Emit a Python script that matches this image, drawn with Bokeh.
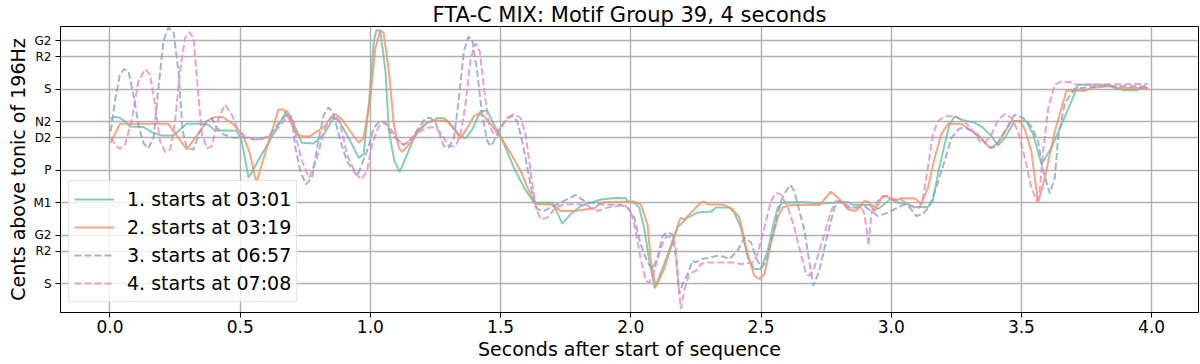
from bokeh.plotting import figure
from bokeh.models import FixedTicker, Range1d, Legend, LegendItem
from bokeh.embed import file_html
from bokeh.resources import INLINE

# ---------------- data (seconds, cents above tonic) ----------------
series_labels = ["1. starts at 03:01", "2. starts at 03:19",
                 "3. starts at 06:57", "4. starts at 07:08"]

s1 = [(0.003, 1017), (0.019, 1030), (0.038, 1024), (0.058, 1003), (0.077, 970), (0.128, 968),
      (0.154, 941), (0.173, 927), (0.199, 915), (0.244, 915), (0.269, 952), (0.295, 987),
      (0.359, 987), (0.38, 980), (0.40, 948), (0.487, 945), (0.506, 880), (0.532, 654),
      (0.679, 1069), (0.718, 941), (0.737, 870), (0.782, 866), (0.821, 921), (0.859, 1023),
      (0.878, 1013), (0.923, 880), (0.955, 777), (0.974, 798), (0.994, 1106), (1.013, 1495),
      (1.023, 1567), (1.038, 1561), (1.058, 1311), (1.071, 941), (1.092, 757), (1.113, 691),
      (1.141, 798), (1.179, 941), (1.218, 997), (1.244, 1007), (1.256, 1023), (1.282, 1023),
      (1.308, 983), (1.346, 911), (1.365, 897), (1.391, 952), (1.423, 1065), (1.449, 1069),
      (1.474, 983), (1.506, 890), (1.551, 716), (1.590, 593), (1.628, 500), (1.70, 500),
      (1.737, 371), (1.769, 429), (1.808, 480), (1.885, 520), (1.949, 531), (1.981, 527),
      (1.987, 507), (2.013, 500), (2.032, 470), (2.051, 347), (2.071, 142), (2.092, -29),
      (2.128, 121), (2.160, 265), (2.179, 347), (2.218, 408), (2.256, 439), (2.308, 445),
      (2.327, 470), (2.378, 470), (2.397, 439), (2.423, 347), (2.449, 162), (2.474, 90),
      (2.5, 90), (2.526, 203), (2.545, 347), (2.564, 470), (2.583, 500), (2.654, 505),
      (2.731, 495), (2.833, 504), (2.853, 487), (2.929, 484), (2.949, 460), (3.0, 527),
      (3.026, 500), (3.064, 490), (3.090, 474), (3.141, 474), (3.160, 511), (3.179, 675),
      (3.205, 860), (3.224, 983), (3.244, 1034), (3.269, 1013), (3.321, 993), (3.346, 972),
      (3.385, 911), (3.410, 853), (3.436, 900), (3.474, 1003), (3.519, 1003), (3.545, 921),
      (3.577, 737), (3.615, 839), (3.654, 983), (3.692, 1126), (3.718, 1229), (3.833, 1229),
      (3.859, 1208), (3.897, 1194), (3.942, 1194), (3.955, 1208), (3.985, 1208)]

s2 = [(0.003, 870), (0.038, 987), (0.224, 987), (0.295, 829), (0.372, 1003), (0.40, 1028),
      (0.435, 1028), (0.474, 983), (0.513, 911), (0.538, 798), (0.562, 624), (0.647, 1075),
      (0.667, 1075), (0.692, 1003), (0.718, 921), (0.737, 911), (0.769, 911), (0.795, 941),
      (0.821, 966), (0.853, 1034), (0.865, 1048), (0.891, 1013), (0.923, 941), (0.955, 870),
      (0.974, 900), (1.0, 1147), (1.019, 1454), (1.038, 1567), (1.051, 1547), (1.071, 1311),
      (1.090, 983), (1.109, 839), (1.122, 814), (1.154, 870), (1.186, 941), (1.218, 993),
      (1.244, 1007), (1.295, 1007), (1.327, 941), (1.346, 897), (1.372, 962), (1.397, 1034),
      (1.417, 1050), (1.436, 1034), (1.474, 962), (1.506, 890), (1.538, 808), (1.577, 695),
      (1.609, 572), (1.635, 494), (1.692, 490), (1.731, 449), (1.78, 449), (1.808, 455),
      (1.859, 465), (1.885, 500), (1.910, 505), (2.013, 507), (2.038, 490), (2.064, 367),
      (2.077, 142), (2.096, -18), (2.128, 90), (2.167, 285), (2.186, 388), (2.192, 408),
      (2.205, 395), (2.231, 439), (2.269, 500), (2.282, 507), (2.295, 490), (2.359, 487),
      (2.391, 460), (2.417, 408), (2.449, 183), (2.474, 49), (2.494, 29), (2.513, 60),
      (2.538, 244), (2.564, 408), (2.583, 470), (2.615, 486), (2.724, 486), (2.743, 521),
      (2.769, 568), (2.788, 541), (2.808, 511), (2.833, 460), (2.865, 449), (2.897, 511),
      (2.91, 508), (2.936, 449), (2.962, 531), (2.981, 541), (3.013, 511), (3.038, 527),
      (3.090, 527), (3.115, 490), (3.141, 593), (3.167, 777), (3.192, 921), (3.218, 987),
      (3.269, 987), (3.295, 958), (3.333, 921), (3.365, 860), (3.385, 839), (3.410, 870),
      (3.462, 1003), (3.494, 1007), (3.513, 952), (3.538, 818), (3.564, 500), (3.590, 654),
      (3.628, 941), (3.673, 1192), (3.744, 1192), (3.769, 1208), (3.821, 1219), (3.850, 1219),
      (3.872, 1208), (3.985, 1208)]

s3 = [(0.003, 941), (0.019, 1126), (0.038, 1291), (0.054, 1325), (0.071, 1311), (0.090, 1167),
      (0.109, 983), (0.128, 870), (0.147, 835), (0.167, 900), (0.186, 1208), (0.205, 1495),
      (0.224, 1582), (0.244, 1557), (0.263, 1311), (0.279, 941), (0.295, 839), (0.321, 829),
      (0.346, 941), (0.372, 1003), (0.391, 1023), (0.410, 962), (0.436, 921), (0.474, 900),
      (0.513, 905), (0.551, 890), (0.590, 897), (0.615, 921), (0.654, 1003), (0.679, 1044),
      (0.699, 1013), (0.712, 839), (0.731, 695), (0.752, 613), (0.776, 654), (0.795, 839),
      (0.821, 1044), (0.840, 1089), (0.859, 1044), (0.885, 880), (0.910, 757), (0.949, 665),
      (0.962, 716), (0.987, 818), (1.013, 962), (1.038, 1007), (1.058, 993), (1.083, 921),
      (1.109, 880), (1.128, 855), (1.154, 890), (1.186, 962), (1.212, 1023), (1.231, 1023),
      (1.250, 993), (1.263, 941), (1.282, 849), (1.301, 839), (1.321, 900), (1.340, 1147),
      (1.359, 1434), (1.376, 1526), (1.391, 1506), (1.410, 1311), (1.429, 1044), (1.449, 880),
      (1.462, 849), (1.474, 880), (1.5, 962), (1.526, 1023), (1.545, 1034), (1.564, 1003),
      (1.583, 880), (1.603, 716), (1.622, 552), (1.641, 460), (1.667, 449), (1.705, 480),
      (1.744, 511), (1.788, 548), (1.821, 511), (1.872, 490), (1.962, 486), (1.987, 470),
      (2.013, 408), (2.038, 244), (2.064, 131), (2.083, 90), (2.103, 162), (2.122, 295),
      (2.141, 316), (2.160, 306), (2.173, 162), (2.186, -63), (2.199, -2), (2.218, 60),
      (2.237, 142), (2.250, 131), (2.269, 152), (2.295, 158), (2.333, 172), (2.359, 166),
      (2.378, 152), (2.410, 203), (2.436, 285), (2.462, 254), (2.481, 162), (2.5, 100),
      (2.519, 131), (2.551, 347), (2.577, 511), (2.596, 572), (2.613, 609), (2.628, 572),
      (2.641, 490), (2.667, 326), (2.684, 150), (2.701, -12), (2.724, 80), (2.756, 306),
      (2.782, 470), (2.801, 511), (2.833, 470), (2.872, 470), (2.90, 475), (2.949, 418),
      (2.987, 439), (3.026, 470), (3.051, 490), (3.071, 470), (3.096, 418), (3.122, 429),
      (3.147, 480), (3.173, 593), (3.205, 757), (3.231, 900), (3.263, 960), (3.29, 960),
      (3.308, 941), (3.346, 897), (3.378, 839), (3.40, 845), (3.436, 941), (3.474, 1044),
      (3.506, 1023), (3.538, 972), (3.564, 880), (3.583, 700), (3.609, 557), (3.628, 654),
      (3.641, 900), (3.667, 1115), (3.705, 1205), (3.76, 1212), (3.821, 1219), (3.985, 1219)]

s4 = [(0.003, 900), (0.026, 849), (0.038, 833), (0.058, 860), (0.083, 1003), (0.109, 1249),
      (0.135, 1325), (0.154, 1291), (0.173, 1106), (0.192, 880), (0.212, 814), (0.231, 829),
      (0.25, 1003), (0.269, 1311), (0.288, 1516), (0.305, 1553), (0.321, 1516), (0.337, 1208),
      (0.353, 921), (0.372, 835), (0.391, 849), (0.417, 1023), (0.442, 1106), (0.468, 1044),
      (0.494, 941), (0.526, 905), (0.564, 890), (0.603, 900), (0.628, 931), (0.647, 962),
      (0.686, 1044), (0.703, 1023), (0.718, 880), (0.737, 757), (0.765, 654), (0.795, 777),
      (0.821, 941), (0.846, 1023), (0.865, 1034), (0.885, 983), (0.910, 798), (0.942, 685),
      (0.965, 644), (0.987, 695), (1.006, 860), (1.032, 972), (1.051, 993), (1.071, 972),
      (1.096, 911), (1.122, 860), (1.141, 870), (1.179, 931), (1.218, 962), (1.244, 966),
      (1.269, 935), (1.301, 849), (1.327, 849), (1.346, 921), (1.365, 1106), (1.385, 1393),
      (1.404, 1485), (1.420, 1434), (1.436, 1208), (1.455, 983), (1.474, 921), (1.5, 962),
      (1.526, 1023), (1.551, 1048), (1.577, 1023), (1.596, 921), (1.615, 695), (1.635, 470),
      (1.654, 398), (1.679, 408), (1.712, 470), (1.744, 490), (1.80, 490), (1.833, 480),
      (1.872, 449), (1.910, 470), (1.974, 486), (2.0, 449), (2.019, 326), (2.038, 152),
      (2.058, 18), (2.071, 8), (2.090, 80), (2.115, 223), (2.135, 289), (2.160, 289),
      (2.173, 223), (2.182, 18), (2.192, -156), (2.205, -43), (2.224, 60), (2.25, 80),
      (2.269, 121), (2.295, 131), (2.397, 131), (2.423, 121), (2.468, 131), (2.487, 183),
      (2.513, 347), (2.538, 511), (2.558, 562), (2.577, 548), (2.603, 470), (2.628, 347),
      (2.650, 200), (2.673, 60), (2.686, 49), (2.705, 100), (2.743, 306), (2.769, 449),
      (2.788, 511), (2.81, 505), (2.846, 470), (2.885, 470), (2.897, 429), (2.908, 306),
      (2.913, 234), (2.918, 340), (2.926, 449), (2.949, 511), (2.968, 541), (2.987, 541),
      (3.013, 521), (3.038, 521), (3.064, 490), (3.090, 466), (3.109, 470), (3.122, 531),
      (3.141, 716), (3.160, 921), (3.179, 1003), (3.205, 1034), (3.244, 1034), (3.282, 1003),
      (3.314, 941), (3.340, 880), (3.359, 870), (3.385, 921), (3.410, 1013), (3.436, 1048),
      (3.462, 1023), (3.487, 941), (3.513, 777), (3.538, 593), (3.558, 511), (3.570, 572),
      (3.583, 818), (3.603, 1085), (3.628, 1229), (3.654, 1249), (3.686, 1245), (3.712, 1229),
      (3.985, 1233)]

ytick_vals = [0, 200, 300, 500, 700, 900, 1000, 1200, 1400, 1500]
ytick_labels = ["S", "R2", "G2", "M1", "P", "D2", "N2", "S", "R2", "G2"]
xtick_vals = [0.0, 0.5, 1.0, 1.5, 2.0, 2.5, 3.0, 3.5, 4.0]
xtick_labels = ["0.0", "0.5", "1.0", "1.5", "2.0", "2.5", "3.0", "3.5", "4.0"]

title_text = "FTA-C MIX: Motif Group 39, 4 seconds"
xlabel = "Seconds after start of sequence"
ylabel = "Cents above tonic of 196Hz"

# ---------------- styles ----------------
colors = ["#66c2a5", "#fc8d62", "#8da0cb", "#e78ac3"]
dashes = ["solid", "solid", "7 3", "7 3"]
FONT = "DejaVu Sans"

x0, x1 = -0.19, 4.18
y0, y1 = -178, 1588

p = figure(width=1200, height=364, x_range=Range1d(x0, x1), y_range=Range1d(y0, y1),
           output_backend="svg", toolbar_location=None, title=title_text,
           min_border_left=60, min_border_right=2, min_border_top=25, min_border_bottom=52)

p.title.align = "center"
p.title.text_font = FONT
p.title.text_font_size = "21px"
p.title.text_font_style = "normal"
p.title.text_color = "black"
p.title.standoff = 0
p.title.offset = 0

p.background_fill_color = "white"
p.border_fill_color = "white"
p.outline_line_color = "black"
p.outline_line_width = 1

for ax in (p.xaxis[0], p.yaxis[0]):
    ax.major_tick_in = 0
    ax.major_tick_out = 5
    ax.minor_tick_in = 0
    ax.minor_tick_out = 0
    ax.axis_line_color = "black"
    ax.major_tick_line_color = "black"
    ax.major_label_text_font = FONT
    ax.major_label_text_color = "black"
    ax.axis_label_text_font = FONT
    ax.axis_label_text_font_style = "normal"
    ax.axis_label_text_color = "black"
    ax.axis_label_text_font_size = "19px"

p.xaxis.ticker = FixedTicker(ticks=xtick_vals)
p.xaxis.major_label_overrides = dict(zip(xtick_vals, xtick_labels))
p.xaxis.major_label_text_font_size = "17px"
p.xaxis.major_label_standoff = 2
p.xaxis.axis_label_standoff = 2
p.xaxis.axis_label = xlabel

p.yaxis.ticker = FixedTicker(ticks=ytick_vals)
p.yaxis.major_label_overrides = dict(zip(ytick_vals, ytick_labels))
p.yaxis.major_label_text_font_size = "12px"
p.yaxis.major_label_standoff = 4
p.yaxis.axis_label_standoff = 2
p.yaxis.axis_label = ylabel

p.grid.grid_line_color = "#b0b0b0"
p.grid.grid_line_width = 1.4

items = []
for data, col, dash, lab in zip([s1, s2, s3, s4], colors, dashes, series_labels):
    ts = [d[0] for d in data]
    cs = [d[1] for d in data]
    r = p.line(ts, cs, line_color=col, line_width=2, line_alpha=0.8, line_dash=dash)
    items.append(LegendItem(label=lab, renderers=[r]))

legend = Legend(items=items, location=(8, 10), orientation="vertical",
                label_text_font=FONT, label_text_font_size="19px", label_text_color="black",
                glyph_width=40, glyph_height=26, label_height=26, label_standoff=13,
                spacing=2, padding=5, margin=0,
                border_line_color="#cccccc", border_line_width=1,
                background_fill_color="white", background_fill_alpha=0.8)
p.add_layout(legend)

open("out.html", "w").write(file_html(p, INLINE))
